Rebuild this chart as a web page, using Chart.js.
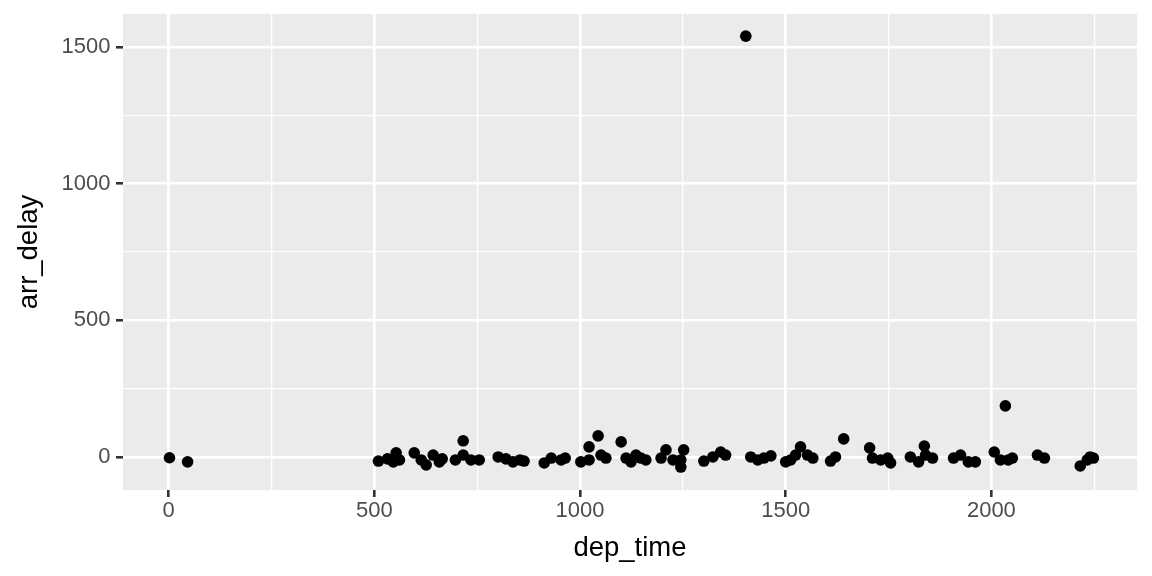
<!DOCTYPE html>
<html>
<head>
<meta charset="utf-8">
<script src="https://cdn.jsdelivr.net/npm/chart.js@4/dist/chart.umd.min.js"></script>
<style>
  html, body { margin: 0; padding: 0; background: #ffffff; }
  #wrap { width: 1152px; height: 576px; }
</style>
</head>
<body>
<div id="wrap"><canvas id="c" width="1152" height="576"></canvas></div>
<script>
// dep_time values (x)
const depTime = [
  2, 46, 510, 532, 553, 561, 546, 597, 614, 626, 643, 658, 665, 716, 697, 716, 735, 755,
  801, 820, 837, 854, 864, 913, 930, 954, 964, 1002, 1022, 1051, 1063, 1044, 1022,
  1100, 1112, 1136, 1148, 1160, 1124, 1209, 1197, 1226, 1245, 1252, 1245,
  1301, 1323, 1342, 1354, 1403, 1415, 1432, 1447, 1464,
  1500, 1512, 1524, 1536, 1553, 1566, 1609, 1621, 1641,
  1704, 1711, 1731, 1748, 1755, 1803, 1823, 1840, 1837, 1857,
  1908, 1925, 1944, 1961, 2007, 2022, 2041, 2051, 2034, 2112, 2129,
  2216, 2233, 2240, 2248
];
// arr_delay values (y)
const arrDelay = [
  -3, -18, -15, -7, 15, -11, -18, 15, -11, -29, 7, -18, -7, 59, -11, 7, -11, -11,
  0, -7, -18, -11, -15, -22, -4, -11, -4, -18, -11, 7, -4, 77, 37,
  55, -4, 7, -4, -11, -18, 26, -4, -11, -11, 26, -37,
  -15, 0, 18, 7, 1540, 0, -11, -4, 4,
  -18, -11, 7, 37, 7, -4, -15, 0, 66,
  33, -4, -11, -4, -22, 0, -18, 7, 40, -4,
  -4, 7, -18, -18, 18, -11, -11, -4, 187, 7, -4,
  -33, -11, 0, -4
];
const xMajorTicks = [0, 500, 1000, 1500, 2000];
const yMajorTicks = [0, 500, 1000, 1500];
const xMinorTicks = [250, 750, 1250, 1750, 2250];
const yMinorTicks = [250, 750, 1250];

const points = depTime.map((x, i) => ({ x: x, y: arrDelay[i] }));

const panelBg = {
  id: 'panelBg',
  beforeDraw(chart) {
    const a = chart.chartArea;
    const ctx = chart.ctx;
    ctx.save();
    ctx.fillStyle = '#EBEBEB';
    ctx.fillRect(a.left, a.top, a.right - a.left, a.bottom - a.top);
    ctx.restore();
  }
};

function makeTicks(major, minor) {
  return major.concat(minor).sort((a, b) => a - b).map(v => ({ value: v }));
}
function isMajor(list, v) { return list.indexOf(v) !== -1; }

const FONT = 'Liberation Sans, Arial, sans-serif';

new Chart(document.getElementById('c'), {
  type: 'scatter',
  data: {
    datasets: [{
      data: points,
      backgroundColor: '#000000',
      borderWidth: 0,
      pointRadius: 5.8,
      pointHoverRadius: 5.8
    }]
  },
  plugins: [panelBg],
  options: {
    responsive: false,
    animation: false,
    events: [],
    layout: { padding: { left: 0, top: 14, right: 15, bottom: 0 } },
    plugins: { legend: { display: false }, tooltip: { enabled: false } },
    scales: {
      x: {
        type: 'linear',
        min: -111,
        max: 2354,
        afterBuildTicks(scale) { scale.ticks = makeTicks(xMajorTicks, xMinorTicks); },
        afterFit(scale) {
          scale.height = 86;
          scale.paddingLeft = 0; scale.paddingRight = 0;
          scale.paddingTop = 0; scale.paddingBottom = 0;
        },
        border: { display: false },
        grid: {
          color: '#FFFFFF',
          lineWidth: ctx => isMajor(xMajorTicks, ctx.tick.value) ? 2.6 : 1.3,
          tickColor: ctx => isMajor(xMajorTicks, ctx.tick.value) ? '#333333' : 'rgba(0,0,0,0)',
          tickWidth: 2.6,
          tickLength: 7,
          drawTicks: true
        },
        ticks: {
          autoSkip: false,
          maxRotation: 0,
          padding: 1,
          color: '#4D4D4D',
          font: { family: FONT, size: 22 },
          callback: v => isMajor(xMajorTicks, v) ? String(v) : ''
        },
        title: {
          display: true,
          text: 'dep_time',
          color: '#000000',
          font: { family: FONT, size: 27.5 },
          padding: { top: 0, bottom: 11 }
        }
      },
      y: {
        type: 'linear',
        min: -121,
        max: 1621,
        afterBuildTicks(scale) { scale.ticks = makeTicks(yMajorTicks, yMinorTicks); },
        afterFit(scale) {
          scale.width = 123;
          scale.paddingLeft = 0; scale.paddingRight = 0;
          scale.paddingTop = 0; scale.paddingBottom = 0;
        },
        border: { display: false },
        grid: {
          color: '#FFFFFF',
          lineWidth: ctx => isMajor(yMajorTicks, ctx.tick.value) ? 2.6 : 1.3,
          tickColor: ctx => isMajor(yMajorTicks, ctx.tick.value) ? '#333333' : 'rgba(0,0,0,0)',
          tickWidth: 2.6,
          tickLength: 7,
          drawTicks: true
        },
        ticks: {
          autoSkip: false,
          padding: 5.5,
          color: '#4D4D4D',
          font: { family: FONT, size: 22 },
          callback: v => isMajor(yMajorTicks, v) ? String(v) : ''
        },
        title: {
          display: true,
          text: 'arr_delay',
          color: '#000000',
          font: { family: FONT, size: 27.5 },
          padding: { top: 13, bottom: 0 }
        }
      }
    }
  }
});
</script>
</body>
</html>
